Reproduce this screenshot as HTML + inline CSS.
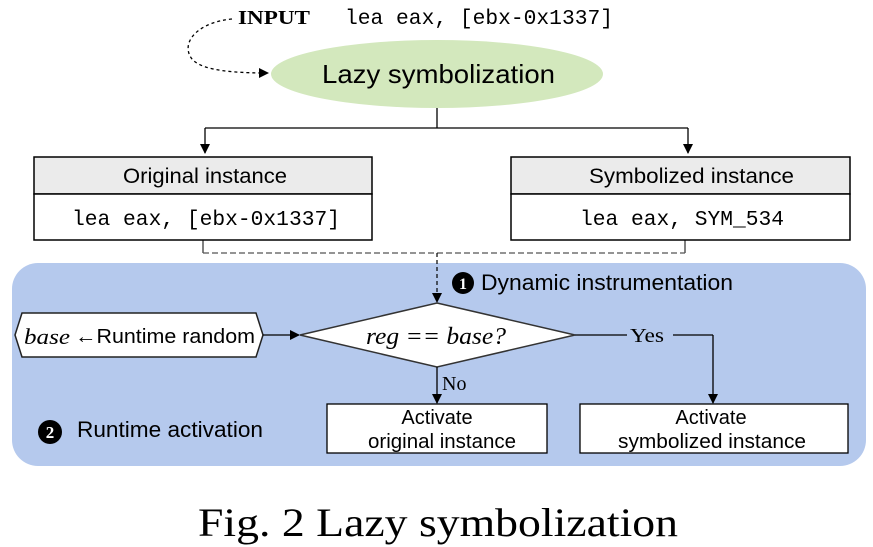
<!DOCTYPE html>
<html><head><meta charset="utf-8"><style>
html,body{margin:0;padding:0;background:#fff;}
svg{display:block;}
.s{font-family:"Liberation Sans",sans-serif;}
.m{font-family:"Liberation Mono",monospace;}
.r{font-family:"Liberation Serif",serif;}
</style></head><body>
<svg width="873" height="547" viewBox="0 0 873 547" xmlns="http://www.w3.org/2000/svg">
<defs><marker id="a" markerWidth="10" markerHeight="10" refX="9" refY="5" orient="auto" markerUnits="userSpaceOnUse"><path d="M0,0 L10,5 L0,10 z" fill="#000"/></marker></defs>
<text x="238" y="24" class="r" font-size="20" font-weight="bold" textLength="72" lengthAdjust="spacingAndGlyphs">INPUT</text>
<text x="345" y="24" class="m" font-size="21" textLength="268" lengthAdjust="spacingAndGlyphs">lea eax, [ebx-0x1337]</text>
<path d="M232,19 C200,22 182,40 190,56 C196,68 220,73 268,73" fill="none" stroke="#000" stroke-width="1.3" stroke-dasharray="3,3" marker-end="url(#a)"/>
<ellipse cx="437" cy="74" rx="166" ry="34" fill="#d3e8bd"/>
<text x="322" y="83" class="s" font-size="26" textLength="233" lengthAdjust="spacingAndGlyphs">Lazy symbolization</text>
<path d="M437,108 V128 M205,128 H688" stroke="#000" stroke-width="1.3" fill="none"/>
<line x1="205" y1="128" x2="205" y2="153" stroke="#000" stroke-width="1.3" marker-end="url(#a)"/>
<line x1="688" y1="128" x2="688" y2="153" stroke="#000" stroke-width="1.3" marker-end="url(#a)"/>
<rect x="34" y="157" width="338" height="37" fill="#ebebeb" stroke="#000" stroke-width="1.5"/>
<rect x="34" y="194" width="338" height="46" fill="#fff" stroke="#000" stroke-width="1.5"/>
<text x="123" y="183" class="s" font-size="21" textLength="164" lengthAdjust="spacingAndGlyphs">Original instance</text>
<text x="72" y="225" class="m" font-size="21" textLength="268" lengthAdjust="spacingAndGlyphs">lea eax, [ebx-0x1337]</text>
<rect x="511" y="157" width="339" height="37" fill="#ebebeb" stroke="#000" stroke-width="1.5"/>
<rect x="511" y="194" width="339" height="46" fill="#fff" stroke="#000" stroke-width="1.5"/>
<text x="589" y="183" class="s" font-size="21" textLength="205" lengthAdjust="spacingAndGlyphs">Symbolized instance</text>
<text x="580" y="225" class="m" font-size="21" textLength="204" lengthAdjust="spacingAndGlyphs">lea eax, SYM_534</text>
<path d="M203,240 V253 M685,240 V253" stroke="#000" stroke-width="1"/>
<path d="M203,253 H685" stroke="#555" stroke-width="1.2" stroke-dasharray="6,3"/>
<rect x="12" y="263" width="854" height="203" rx="26" fill="#b5c9ed"/>
<line x1="437" y1="253" x2="437" y2="302" stroke="#000" stroke-width="1.2" stroke-dasharray="4,3" marker-end="url(#a)"/>
<circle cx="463" cy="283" r="11" fill="#000"/>
<text x="463" y="289" class="r" font-size="16" font-weight="bold" fill="#fff" text-anchor="middle">1</text>
<text x="481" y="290" class="s" font-size="22" textLength="252" lengthAdjust="spacingAndGlyphs">Dynamic instrumentation</text>
<polygon points="437,303 575,335 437,367 300,335" fill="#fff" stroke="#333" stroke-width="1.5"/>
<text x="366" y="344" class="r" font-size="24" font-style="italic" textLength="140" lengthAdjust="spacingAndGlyphs">reg == base?</text>
<polygon points="22,313 256,313 263,335 256,357 22,357 15,335" fill="#fff" stroke="#222" stroke-width="1.5"/>
<text x="24" y="344" class="r" font-size="22" font-style="italic" textLength="46" lengthAdjust="spacingAndGlyphs">base</text>
<text x="75" y="343" class="s" font-size="20" textLength="180" lengthAdjust="spacingAndGlyphs">←Runtime random</text>
<line x1="263" y1="335" x2="299" y2="335" stroke="#000" stroke-width="1.3" marker-end="url(#a)"/>
<path d="M575,335 H627 M673,335 H713" stroke="#000" stroke-width="1.3" fill="none"/>
<text x="630" y="342" class="r" font-size="20" textLength="34" lengthAdjust="spacingAndGlyphs">Yes</text>
<line x1="713" y1="335" x2="713" y2="403" stroke="#000" stroke-width="1.3" marker-end="url(#a)"/>
<line x1="437" y1="367" x2="437" y2="403" stroke="#000" stroke-width="1.3" marker-end="url(#a)"/>
<text x="442" y="390" class="r" font-size="20">No</text>
<rect x="327" y="404" width="220" height="49" fill="#fff" stroke="#000" stroke-width="1.3"/>
<text x="437" y="424" class="s" font-size="20" text-anchor="middle">Activate</text>
<text x="368" y="448" class="s" font-size="20" textLength="148" lengthAdjust="spacingAndGlyphs">original instance</text>
<rect x="580" y="404" width="268" height="49" fill="#fff" stroke="#000" stroke-width="1.3"/>
<text x="711" y="424" class="s" font-size="20" text-anchor="middle">Activate</text>
<text x="618" y="448" class="s" font-size="20" textLength="188" lengthAdjust="spacingAndGlyphs">symbolized instance</text>
<circle cx="50" cy="432" r="12" fill="#000"/>
<text x="50" y="438" class="r" font-size="17" font-weight="bold" fill="#fff" text-anchor="middle">2</text>
<text x="77" y="437" class="s" font-size="22" textLength="186" lengthAdjust="spacingAndGlyphs">Runtime activation</text>
<text x="198" y="536" class="r" font-size="40" textLength="480" lengthAdjust="spacingAndGlyphs">Fig. 2 Lazy  symbolization</text>
</svg>
</body></html>
